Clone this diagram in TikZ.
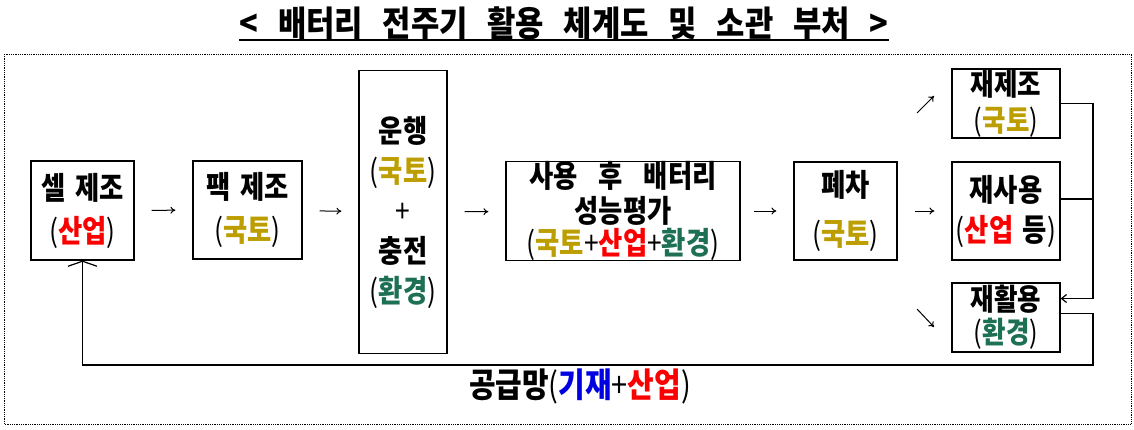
\documentclass[tikz,border=0pt]{standalone}
\usepackage{fontspec}
\setmainfont{Noto Sans CJK KR}[FakeStretch=0.85, WordSpace=1.6]
\newfontfamily\titlefont{Noto Sans CJK KR}[FakeStretch=0.88, WordSpace=2.8]
\usepackage{tikz}
\usetikzlibrary{arrows.meta}

\definecolor{molit}{RGB}{189,158,0}
\definecolor{motie}{RGB}{250,0,0}
\definecolor{menv}{RGB}{30,112,84}
\definecolor{moef}{RGB}{0,0,225}
\newcommand{\gukto}{\textcolor{molit}{국토}}
\newcommand{\saneop}{\textcolor{motie}{산업}}
\newcommand{\hwangyeong}{\textcolor{menv}{환경}}
\newcommand{\gijae}{\textcolor{moef}{기재}}
\newcommand{\paren}[1]{{\mdseries(}#1{\mdseries)}}
\newcommand{\widesp}{\spaceskip=21pt\relax}

\tikzset{
	box/.style={rectangle, draw, line width=1.2pt, align=center, inner sep=0pt},
	arr/.style={-{To[length=5pt,width=7pt]}, line width=1pt, shorten <=17pt, shorten >=17pt},
	link/.style={line width=1.2pt}
}

\begin{document}
\begin{tikzpicture}[x=1pt, y=-1pt, font=\bfseries\fontsize{31}{43}\selectfont]
\useasboundingbox (0,0) rectangle (1134,429);
\node (title) at (564,23) [inner sep=0pt, font=\titlefont\bfseries\fontsize{35}{36}\selectfont] {< 배터리 전주기 활용 체계도 및 소관 부처 >};
\draw[line width=1.2pt] (title.south west |- 0,40) -- (title.south east |- 0,40);
\draw[densely dotted, line width=0.8pt] (4,54) rectangle (1131,424);

\node (cell) at (82.5,210.5) [box, minimum width=103pt, minimum height=99pt] {셀 제조\\\paren{\saneop}};
\node (pack) at (247.5,210) [box, minimum width=109pt, minimum height=98pt] {팩 제조\\\paren{\gukto}};
\node (drive) at (403,212) [box, minimum width=88pt, minimum height=283pt, font=\bfseries\fontsize{31}{40}\selectfont] {운행\\\paren{\gukto}\\{\mdseries+}\\충전\\\paren{\hwangyeong}};
\node (eval) at (623,211) [box, minimum width=234pt, minimum height=98pt, font=\bfseries\fontsize{31}{32}\selectfont\widesp] {사용 후 배터리\\[3pt]성능평가\\\paren{\gukto{\mdseries+}\saneop{\mdseries+}\hwangyeong}};
\node (scrap) at (845.5,211) [box, minimum width=103pt, minimum height=98pt, font=\bfseries\fontsize{31}{49}\selectfont] {폐차\\\paren{\gukto}};
	\node (reman) at (1006,103.5) [box, minimum width=108pt, minimum height=69pt, font=\bfseries\fontsize{30}{36}\selectfont] {재제조\\\paren{\gukto}};
	\node (reuse) at (1006,211) [box, minimum width=108pt, minimum height=98pt, font=\bfseries\fontsize{31}{40}\selectfont] {재사용\\\paren{\saneop{} 등}};
	\node (recyc) at (1006,317.5) [box, minimum width=108pt, minimum height=69pt, font=\bfseries\fontsize{30}{33}\selectfont] {재활용\\\paren{\hwangyeong}};
\node (supply) at (580,386) [inner sep=0pt, font=\bfseries\fontsize{34}{36}\selectfont] {공급망\paren{\gijae{\mdseries+}\saneop}};

% main flow
\draw[arr] (cell) -- (pack);
\draw[arr] (pack) -- (drive);
\draw[arr] (drive) -- (eval);
\draw[arr, shorten <=13pt] (eval) -- (scrap);
\draw[arr] (scrap) -- (reuse);
\coordinate (up0) at (917,113);
\coordinate (up1) at (934,96);
\coordinate (dn0) at (917,309);
\coordinate (dn1) at (934,327);
\draw[arr, shorten <=0pt, shorten >=0pt] (up0) -- (up1);
\draw[arr, shorten <=0pt, shorten >=0pt] (dn0) -- (dn1);

% feedback
\coordinate (bus) at (1093,365);
\draw[link] (reman.east) -- (reman.east -| bus) -- ([yshift=19pt]recyc.east -| bus);
\draw[link, -{Straight Barb[length=5pt,width=8pt]}] ([yshift=19pt]recyc.east -| bus) -- ([yshift=19pt]recyc.east);
\draw[link] ([yshift=12pt]reuse.east) -- ([yshift=12pt]reuse.east -| bus);
\draw[link, -{Straight Barb[length=5pt,width=29pt]}] ([yshift=4pt]recyc.east) -| (bus) -| (cell.south);
\end{tikzpicture}
\end{document}
